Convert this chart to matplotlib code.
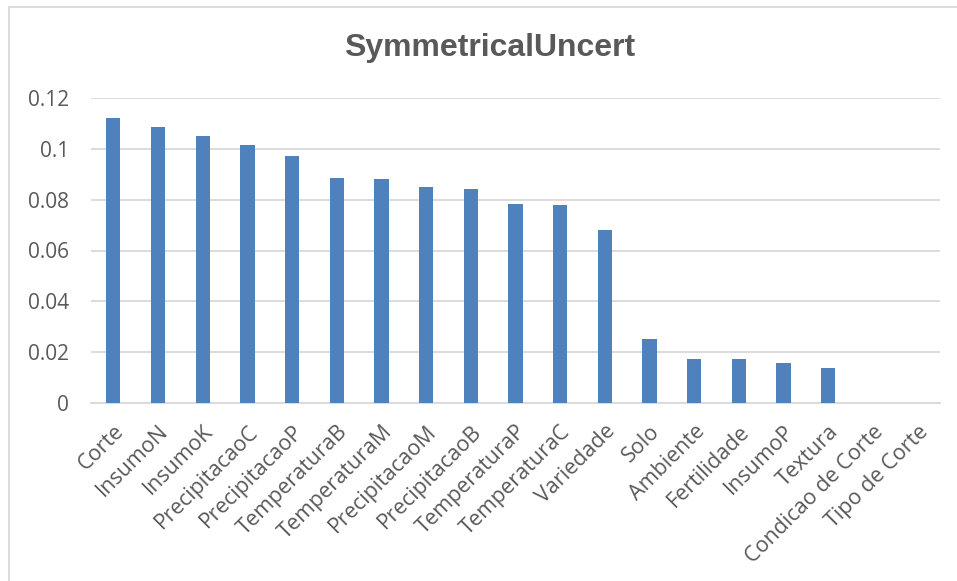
import matplotlib
matplotlib.use("Agg")
import matplotlib.pyplot as plt
from matplotlib.patches import Rectangle

# attribute ranking by symmetrical uncertainty
attributes = ['Corte', 'InsumoN', 'InsumoK', 'PrecipitacaoC', 'PrecipitacaoP',
              'TemperaturaB', 'TemperaturaM', 'PrecipitacaoM', 'PrecipitacaoB',
              'TemperaturaP', 'TemperaturaC', 'Variedade', 'Solo', 'Ambiente',
              'Fertilidade', 'InsumoP', 'Textura', 'Condicao de Corte', 'Tipo de Corte']
scores = [0.1120, 0.1086, 0.1050, 0.1015, 0.0972,
          0.0885, 0.0881, 0.0850, 0.0842,
          0.0782, 0.0778, 0.0681, 0.0252, 0.0172,
          0.0172, 0.0157, 0.0137, 0.0, 0.0]
yticks = [0, 0.02, 0.04, 0.06, 0.08, 0.1, 0.12]
ylabels = ['0', '0.02', '0.04', '0.06', '0.08', '0.1', '0.12']

W, H = 957, 581
fig = plt.figure(figsize=(W / 100, H / 100), dpi=100)
ax = fig.add_axes([91 / W, 1 - 403 / H, (940 - 91) / W, (403 - 98) / H])

# outer chart frame (left and top edges visible)
fig.patches.append(Rectangle((8.5 / W, -0.1), 1.2, 1 - 7 / H + 0.1, transform=fig.transFigure,
                             fill=False, edgecolor='#d9d9d9', linewidth=1.3))

x = range(len(attributes))
ax.bar(x, scores, width=0.32, color='#4F81BD', zorder=3)

ax.set_xlim(-0.5, len(attributes) - 0.5)
ax.set_ylim(0, 0.12)
ax.set_yticks(yticks)
ax.set_yticklabels(ylabels, fontsize=15, color='#595959', fontfamily='Open Sans')
ax.set_xticks(list(x))
ax.set_xticklabels(attributes, rotation=45, ha='right', rotation_mode='anchor',
                   fontsize=15.5, color='#595959', fontfamily='Open Sans')
ax.tick_params(axis='both', length=0)
ax.tick_params(axis='y', pad=16)
ax.tick_params(axis='x', pad=13)

ax.grid(axis='y', color='#d9d9d9', linewidth=1.3, zorder=0)
for s in ['top', 'right', 'left']:
    ax.spines[s].set_visible(False)
ax.spines['bottom'].set_color('#d9d9d9')
ax.spines['bottom'].set_linewidth(1.3)

fig.text(490 / W, 1 - 48 / H, 'SymmetricalUncert', ha='center', va='center',
         fontsize=23, fontweight='bold', color='#595959', fontfamily='Liberation Sans')

fig.savefig('out.png', dpi=100)
